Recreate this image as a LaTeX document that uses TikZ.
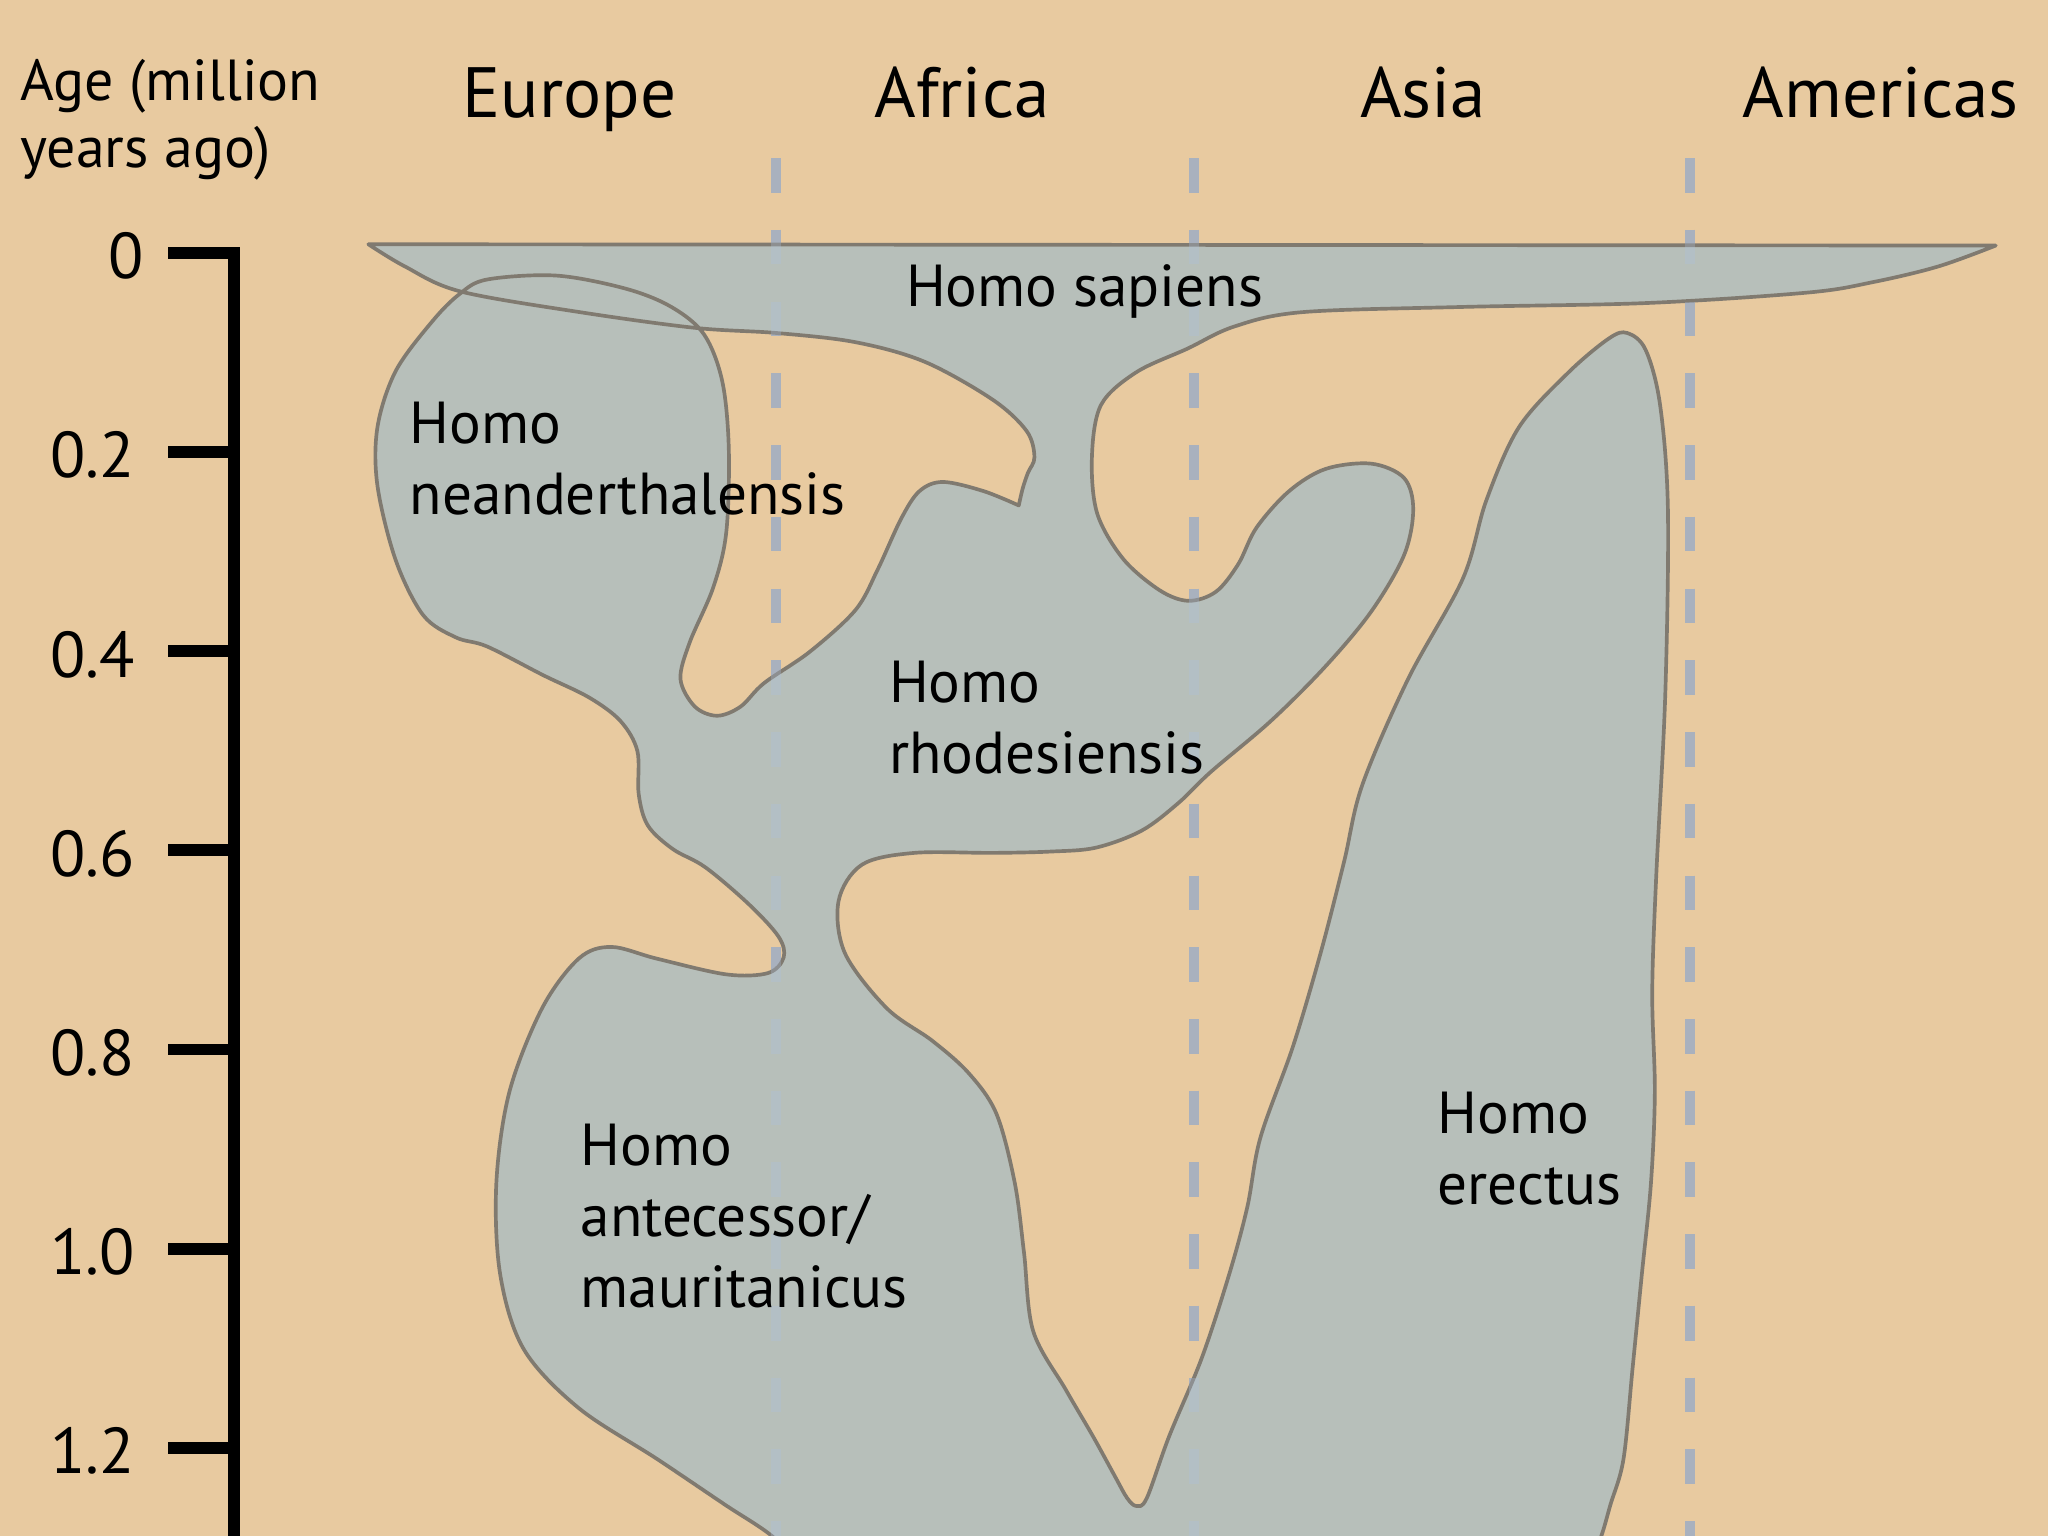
\documentclass[tikz,border=0pt]{standalone}
\usepackage{fontspec}
\setmainfont{PT Sans}
\usepackage{xcolor}

\definecolor{sand}{RGB}{232,202,160}
\definecolor{rangeGray}{RGB}{183,191,186}
\definecolor{rimGray}{RGB}{128,122,112}
\definecolor{dashGray}{RGB}{168,170,176}
\definecolor{dashBlue}{RGB}{172,194,224}

\begin{document}
\begin{tikzpicture}[x=0.01cm,y=-0.01cm,
  region/.style={fill=rangeGray,draw=rimGray,line width=0.8pt,line join=round},
  border/.style={line width=0.08cm,dash pattern=on 0.265cm off 0.284cm},
  continent/.style={anchor=base,inner sep=0pt,font=\fontsize{15.5}{18}\selectfont},
  species/.style={anchor=base west,inner sep=0pt,align=left,font=\fontsize{12.9}{15.4}\selectfont},
  agenum/.style={anchor=east,inner sep=0pt,font=\fontsize{14.1}{16}\selectfont},
  tick/.style={line width=0.09cm}]
\useasboundingbox (0,0) rectangle (1568,1176);
\clip (0,0) rectangle (1568,1176);
\fill[sand] (0,0) rectangle (1568,1176);

% borders between continents
\foreach \bx in {594,914,1294}
  \draw[border,dashGray] (\bx,121) -- (\bx,1180);

% ranges of the species, one outline
\path[region] (282,187) -- (1528,188)
  -- plot[smooth,tension=0.55] coordinates {(1528,188) (1484,204) (1434,216) (1384,224)
     (1261,232) (1120,235) (997,239) (945,250) (909,267) (870,285) (843,310) (836,350)
     (840,393) (860,428) (888,452) (910,460) (931,453) (948,432) (962,404) (987,376)
     (1015,359) (1050,355) (1075,366) (1082,390) (1075,425) (1050,468) (1015,510)
     (973,552) (927,591) (902,615) (874,636) (839,649) (804,652) (760,653) (700,653)
     (660,662) (642,690) (647,730) (679,772) (714,797) (742,822) (763,853) (777,906)
     (784,959) (791,1019) (816,1064) (837,1100) (854,1131) (863,1147) (870,1153)
     (878,1147) (895,1100) (920,1040) (941,976) (955,924) (965,871) (990,801) (1011,730)
     (1029,660) (1043,601) (1078,520) (1120,443) (1138,383) (1163,327) (1201,285)
     (1232,259) (1246,255) (1260,268) (1271,310) (1277,390) (1275,531) (1268,672)
     (1265,760) (1267,836) (1264,906) (1257,976) (1250,1047) (1243,1117) (1233,1152)
     (1226,1176) (1216,1200)}
  -- (1216,1230) -- (620,1230) -- (620,1205)
  -- plot[smooth,tension=0.55] coordinates {(620,1205) (591,1176) (555,1152) (503,1117)
     (443,1078) (401,1033) (383,976) (380,906) (390,836) (415,772) (443,734) (468,725)
     (503,734) (556,746) (588,745) (600,733) (596,717) (573,692) (540,664) (515,650)
     (496,632) (489,608) (488,575) (475,552) (451,534) (416,517) (373,495) (349,488)
     (324,471) (303,429) (289,372) (289,327) (303,284) (331,246) (352,225) (373,214)
     (426,211) (479,221) (514,235) (539,256) (553,292) (558,344) (556,408) (546,450)
     (528,492) (521,520) (532,541) (549,548) (567,541) (585,523) (620,499) (655,467)
     (672,436) (690,397) (704,376) (722,369) (753,376) (780,387)}
  -- plot[smooth,tension=0.55] coordinates {(780,387) (783,374) (787,362) (792,350)
     (786,330) (760,306) (708,277) (655,262) (595,255) (532,251) (444,239) (352,223)
     (310,204) (282,187)}
  -- cycle;

\foreach \bx in {594,914,1294}
  \draw[border,dashBlue,opacity=0.3] (\bx,121) -- (\bx,1180);

% time axis
\draw[tick,line join=miter] (129,193.5) -- (179,193.5) -- (179,1185);
\foreach \k in {1,...,6}
  \draw[tick] (129,193.5+152.5*\k) -- (180,193.5+152.5*\k);
\node[agenum] (age0) at (111,196) {0};
\foreach \val [count=\k] in {0.2,0.4,0.6,0.8,1.0,1.2}
  \node[agenum] (age\k) at (104,196+152.5*\k) {\val};

% multi-line nodes sit on the baseline of their last line
\node[species,font=\fontsize{12.6}{14.5}\selectfont] (ageTitle) at (15,128) {Age (million\\years ago)};

% continents
\node[continent] (europe) at (436,90) {Europe};
\node[continent] (africa) at (736.5,90) {Africa};
\node[continent] (asia) at (1089.5,90) {Asia};
\node[continent] (americas) at (1440,90) {Americas};

% species
\node[species] (sapiens) at (693,235) {Homo sapiens};
\node[species] (neander) at (313,394) {Homo\\neanderthalensis};
\node[species] (rhodes) at (680,592) {Homo\\rhodesiensis};
\node[species] (antecessor) at (444,1001) {Homo\\antecessor/\\mauritanicus};
\node[species] (erectus) at (1100,922) {Homo\\erectus};
\end{tikzpicture}
\end{document}
